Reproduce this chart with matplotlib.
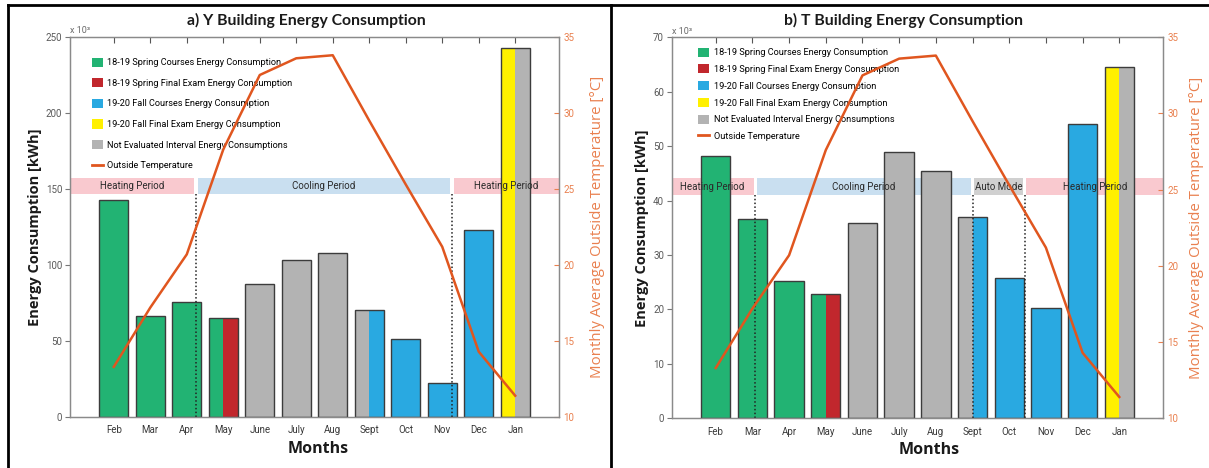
import matplotlib
matplotlib.use("Agg")
import matplotlib.pyplot as plt
import matplotlib.transforms as mtransforms
from matplotlib.patches import Patch
from matplotlib.lines import Line2D

plt.rcParams['font.family'] = ['Roboto', 'DejaVu Sans']

# ---------------------------------------------------------------- data
months = ['Feb', 'Mar', 'Apr', 'May', 'June', 'July', 'Aug', 'Sept', 'Oct', 'Nov', 'Dec', 'Jan']

# monthly energy consumption, x10^3 kWh
y_building_kwh = [143.0, 66.7, 75.9, 64.9, 87.7, 103.1, 107.9, 70.2, 51.3, 22.4, 123.2, 242.8]
t_building_kwh = [48.2, 36.7, 25.2, 22.9, 35.9, 48.9, 45.4, 37.0, 25.7, 20.3, 54.1, 64.5]

# monthly average outside temperature, deg C
outside_temp = [13.3, 17.2, 20.7, 27.6, 32.5, 33.6, 33.8, 29.5, 25.3, 21.2, 14.3, 11.4]

# consumption category of each month's bar (left half, right half)
left_half = ['spring', 'spring', 'spring', 'spring', 'none', 'none', 'none', 'none',
             'fall', 'fall', 'fall', 'fallexam']
right_half = ['spring', 'spring', 'spring', 'exam', 'none', 'none', 'none', 'fall',
              'fall', 'fall', 'fall', 'none']

categories = ['spring', 'exam', 'fall', 'fallexam', 'none']
category_labels = ['18-19 Spring Courses Energy Consumption',
                   '18-19 Spring Final Exam Energy Consumption',
                   '19-20 Fall Courses Energy Consumption',
                   '19-20 Fall Final Exam Energy Consumption',
                   'Not Evaluated Interval Energy Consumptions']
temp_label = 'Outside Temperature'

# HVAC operating periods: (label, start, end) in month-index units
y_periods = [('Heating Period', None, 2.20), ('Cooling Period', 2.30, 9.21),
             ('Heating Period', 9.31, None)]
y_dividers = [2.25, 9.26]
t_periods = [('Heating Period', None, 1.03), ('Cooling Period', 1.13, 6.95),
             ('Auto Mode', 7.05, 8.37), ('Heating Period', 8.47, None)]
t_dividers = [1.08, 7.0, 8.42]

# ---------------------------------------------------------------- style
colors = {'spring': '#22b373', 'exam': '#c1272d', 'fall': '#29a9e1',
          'fallexam': '#fff000', 'none': '#b3b3b3'}
period_colors = {'Heating Period': '#f9c9cf', 'Cooling Period': '#c9dff0',
                 'Auto Mode': '#d0d0d0'}
temp_color = '#e0561f'
axis_orange = '#e9804f'
spine_grey = '#8a8a8a'
band_lo, band_hi = 24.65, 25.75
xlim = (-1.2, 12.2)
small = 7.0
legend_size = 6.6

W, H = 1209, 468
fig = plt.figure(figsize=(W / 100, H / 100), dpi=100)


def draw_panel(rect, values, ymax, ystep, periods, dividers, title, title_x,
               legend_anchor, labelspacing, months_x, ylab_x, tlab_x):
    ax = fig.add_axes(rect)
    ax2 = ax.twinx()
    x = list(range(len(months)))
    width = 0.8

    # split bars: two halves, then an outline around the full bar
    ax.bar([i - width / 4 for i in x], values, width=width / 2,
           color=[colors[c] for c in left_half], edgecolor='none', zorder=2)
    ax.bar([i + width / 4 for i in x], values, width=width / 2,
           color=[colors[c] for c in right_half], edgecolor='none', zorder=2)
    ax.bar(x, values, width=width, fill=False, edgecolor='#3c3c3c',
           linewidth=1.0, zorder=3)

    # period bands sit at the 25 deg C level of the temperature axis
    blend = mtransforms.blended_transform_factory(ax.transData, ax2.transData)
    for label, x0, x1 in periods:
        x0 = xlim[0] if x0 is None else x0
        x1 = xlim[1] if x1 is None else x1
        ax.fill_between([x0, x1], [band_lo] * 2, [band_hi] * 2, transform=blend,
                        color=period_colors[label], linewidth=0, zorder=1)
        ax.text((x0 + x1) / 2, (band_lo + band_hi) / 2, label, transform=blend,
                ha='center', va='center', fontsize=small, color='#2b2b2b', zorder=5)
    for d in dividers:
        ax.plot([d, d], [10, band_lo], transform=blend, ls=(0, (1.0, 1.5)),
                color='#222222', lw=1.1, zorder=4)

    ax2.plot(x, outside_temp, color=temp_color, lw=1.8, zorder=6)

    ax.set_xlim(*xlim)
    ax.set_ylim(0, ymax)
    ax.set_yticks(range(0, ymax + 1, ystep))
    ax2.set_ylim(10, 35)
    ax2.set_yticks(range(10, 36, 5))
    ax.set_xticks(x)
    ax.set_xticklabels(months)

    ax.tick_params(axis='x', direction='in', top=True, length=4, width=0.8,
                   pad=6, labelsize=small, color='#555555', labelcolor='#3a3a3a')
    ax.tick_params(axis='y', direction='out', length=3.5, width=0.8, pad=2,
                   labelsize=small, color='#777777', labelcolor='#5a5a5a')
    ax2.tick_params(axis='y', direction='in', length=3.5, width=0.8, pad=3,
                    labelsize=small, color=axis_orange, labelcolor=axis_orange)
    for a in (ax, ax2):
        for s in a.spines.values():
            s.set_color(spine_grey)
            s.set_linewidth(0.9)

    ax.text(0.0, 1.004, 'x 10³', transform=ax.transAxes, fontsize=6.5,
            color='#6a6a6a', ha='left', va='bottom')

    ax.set_ylabel('Energy Consumption [kWh]', fontsize=10.5, fontweight='bold',
                  family=['Open Sans', 'DejaVu Sans'], color='#1a1a1a')
    ax.yaxis.set_label_coords(ylab_x, 0.5)
    ax2.set_ylabel('Monthly Average Outside Temperature [°C]', fontsize=10.8,
                   family=['Open Sans', 'DejaVu Sans'], color=axis_orange)
    ax2.yaxis.set_label_coords(tlab_x, 0.5)
    ax.set_xlabel('Months', fontsize=11.5, fontweight='bold',
                  family=['Open Sans', 'DejaVu Sans'], color='#1a1a1a')
    ax.xaxis.set_label_coords(months_x, -0.062)

    handles = [Patch(facecolor=colors[c], edgecolor='none') for c in categories]
    handles.append(Line2D([], [], color=temp_color, lw=2))
    ax2.legend(handles, category_labels + [temp_label], loc='upper left',
               bbox_to_anchor=legend_anchor, frameon=False, fontsize=legend_size,
               handlelength=1.2, handleheight=1.15, handletextpad=0.5,
               labelspacing=labelspacing, borderpad=0, borderaxespad=0)

    fig.text(title_x / W, 1 - 20 / H, title, ha='center', va='center',
             fontsize=11.3, fontweight='bold', family=['Lato', 'DejaVu Sans'],
             color='#1a1a1a')
    return ax


draw_panel([70 / W, 51 / H, 489 / W, 380 / H], y_building_kwh, 250, 50,
           y_periods, y_dividers, 'a) Y Building Energy Consumption', 306,
           (0.044, 0.946), 1.2, 0.507, -0.058, 1.063)
draw_panel([671.7 / W, 49.7 / H, 491.6 / W, 381 / H], t_building_kwh, 70, 10,
           t_periods, t_dividers, 'b) T Building Energy Consumption', 904,
           (0.0535, 0.973), 0.78, 0.523, -0.046, 1.052)

# table borders around the two panels
for xs, ys in [([8, 8], [0, H - 5]), ([611, 611], [0, H - 5]), ([8, W], [H - 5, H - 5])]:
    fig.add_artist(Line2D([v / W for v in xs], [v / H for v in ys],
                          transform=fig.transFigure, color='black', lw=2))

fig.savefig('out.png', dpi=100)
